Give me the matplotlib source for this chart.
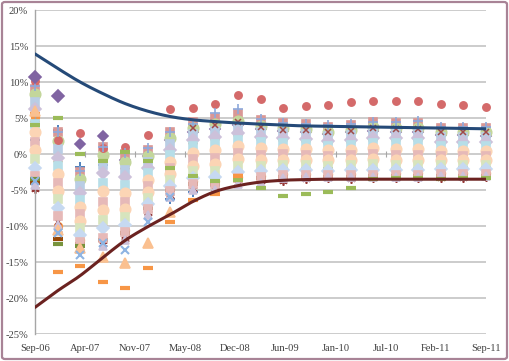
import matplotlib
matplotlib.use("Agg")
import matplotlib.pyplot as plt
from matplotlib.patches import FancyBboxPatch
import numpy as np

# months since Sep-06, one point per quarter
months = [0, 3, 6, 9, 12, 15, 18, 21, 24, 27, 30, 33, 36, 39, 42, 45, 48, 51, 54, 57, 60]
tick_labels = ["Sep-06", "Apr-07", "Nov-07", "May-08", "Dec-08",
               "Jun-09", "Jan-10", "Jul-10", "Feb-11", "Sep-11"]

# upper / lower bounds (%)
upper_bound = [13.9, 11.9, 10.0, 8.4, 7.0, 5.95, 5.2, 4.75, 4.5, 4.3, 4.15,
               4.0, 3.9, 3.85, 3.8, 3.75, 3.7, 3.65, 3.6, 3.55, 3.5]
lower_bound = [-21.3, -19.0, -16.9, -14.4, -12.0, -10.1, -8.4, -6.6, -5.2, -4.4, -3.9,
               -3.65, -3.55, -3.5, -3.5, -3.5, -3.5, -3.5, -3.5, -3.5, -3.5]

# individual series (%)
red_dot = [10.2, 2.0, 2.9, 0.8, 1.0, 2.6, 6.2, 6.4, 6.9, 8.2, 7.6,
           6.4, 6.7, 6.8, 7.2, 7.4, 7.3, 7.3, 6.9, 6.8, 6.5]
purple_diamond = [10.7, 8.1, 1.4, 2.5, -0.8, -0.3, 2.0, 3.0, 3.5, 4.0, 3.5,
                  3.2, 3.0, 2.8, 3.0, 3.2, 3.1, 3.1, 2.6, 2.6, 2.5]
orange_dash = [5.6, -16.4, -15.5, -17.8, -18.6, -15.9, -9.4, -6.4, -5.5, -3.0, -2.5,
               -2.0, -2.0, -1.8, -1.8, -1.5, -1.5, -1.5, -1.4, -1.4, -1.4]
green_dash = [4.0, 5.0, 0.0, -1.0, 0.3, -1.0, -2.0, -3.0, -3.7, -3.6, -4.7,
              -5.9, -5.6, -5.3, -4.7, -3.5, -3.4, -3.4, -3.5, -3.4, -3.3]
green_dash2 = [-3.5, -12.5, -12.8, -12.5, -11.5, -8.0, -5.5, -4.5, -4.5, -3.8, -3.6,
               -3.4, -3.4, -3.4, -3.4, -3.3, -3.3, -3.3, -3.2, -3.2, -3.2]
brown_dash = [-4.0, -11.8, -12.5, -12.0, -11.0, -7.5, -5.0, -4.2, -4.2, -3.6, -3.4,
              -3.2, -3.2, -3.2, -3.2, -3.1, -3.1, -3.1, -3.0, -3.0, -3.0]
orange_circle = [5.2, -10.0, -12.0, -10.1, -10.5, -7.0, -4.8, -3.8, -3.8, -3.2, -3.0,
                 -2.8, -2.8, -2.8, -2.8, -2.7, -2.7, -2.7, -2.6, -2.6, -2.6]
blue_x = [-3.8, -11.0, -14.0, -12.3, -13.3, -9.4, -6.0, -5.0, -4.8, -4.0, -3.8,
          -3.4, -3.4, -3.4, -3.4, -3.4, -3.4, -3.4, -3.3, -3.3, -3.3]
star_red = [-4.8, -10.5, -13.0, -12.5, -11.8, -8.2, -5.8, -4.8, -4.8, -4.0, -3.8,
            -3.7, -3.5, -3.4, -3.5, -3.4, -3.4, -3.3, -3.4, -3.4, -3.2]
blue_plus = [2.0, 3.3, -1.8, -1.5, -1.2, 0.0, -6.3, -5.3, -4.5, -2.4, -2.5,
             -2.0, -2.0, -2.0, -2.0, -1.9, -1.9, -1.9, -1.8, -1.8, -1.8]
lav_plus = [9.5, 3.0, -2.3, 1.0, 0.2, 0.8, 3.1, 4.2, 5.7, 6.3, 4.8,
            4.3, 4.2, 4.0, 4.1, 4.5, 4.4, 4.6, 3.7, 3.7, 3.7]
peach_tri = [6.0, -10.5, -13.0, -14.3, -15.2, -12.4, -8.0, -4.0, -3.8, -3.0, -2.8,
             -2.6, -2.6, -2.5, -2.5, -2.4, -2.4, -2.4, -2.3, -2.3, -2.3]
dark_orange_tri = [5.0, -0.5, -3.0, -0.4, -1.5, -0.5, 1.0, 2.0, 2.5, 3.0, 2.5,
                   2.3, 2.2, 2.0, 2.1, 2.4, 2.3, 2.3, 1.9, 1.9, 1.9]
dark_red_x = [-4.6, -9.5, -12.8, -12.0, -11.5, -8.0, -5.5, 3.6, 4.0, 4.5, 3.7,
              3.4, 3.3, 3.0, 3.2, 3.6, 3.5, 3.5, 3.0, 3.0, 3.0]

# the pale band of funds (%)
p01 = [9.0, 3.0, -2.5, 1.0, 0.0, 0.5, 3.0, 4.5, 5.0, 5.5, 4.7, 4.3, 4.2, 3.8, 4.0, 4.4, 4.3, 4.3, 3.6, 3.6, 3.6]
p02 = [8.4, 1.8, -3.5, -0.2, -1.1, -0.3, 2.2, 3.6, 4.1, 4.6, 3.9, 3.6, 3.5, 3.1, 3.3, 3.7, 3.6, 3.6, 3.0, 3.0, 3.0]
p03 = [7.2, 0.7, -4.4, -1.5, -2.2, -1.1, 1.4, 2.8, 3.2, 3.8, 3.1, 2.9, 2.8, 2.5, 2.6, 3.0, 2.9, 2.9, 2.3, 2.3, 2.3]
p04 = [6.3, -0.5, -5.4, -2.7, -3.2, -1.9, 0.6, 1.9, 2.3, 2.9, 2.4, 2.2, 2.1, 1.8, 1.9, 2.2, 2.2, 2.2, 1.7, 1.7, 1.7]
p05 = [4.2, -1.6, -6.4, -4.0, -4.3, -2.7, -0.2, 1.1, 1.4, 2.0, 1.6, 1.5, 1.4, 1.1, 1.3, 1.5, 1.5, 1.5, 1.1, 1.1, 1.1]
p06 = [3.0, -2.8, -7.3, -5.2, -5.4, -3.6, -1.1, 0.2, 0.5, 1.1, 0.8, 0.7, 0.7, 0.5, 0.6, 0.8, 0.7, 0.7, 0.4, 0.4, 0.4]
p07 = [1.7, -4.0, -8.4, -6.6, -6.6, -4.5, -2.0, -0.7, -0.5, 0.2, -0.1, 0.0, -0.1, -0.3, -0.2, 0.0, -0.1, -0.1, -0.3, -0.3, -0.3]
p08 = [0.5, -5.2, -9.3, -7.8, -7.7, -5.3, -2.8, -1.6, -1.4, -0.7, -0.9, -0.8, -0.8, -0.9, -0.9, -0.7, -0.8, -0.8, -0.9, -0.9, -0.9]
p09 = [-0.7, -6.3, -10.3, -9.1, -8.8, -6.1, -3.6, -2.4, -2.3, -1.6, -1.7, -1.5, -1.5, -1.6, -1.5, -1.4, -1.5, -1.5, -1.5, -1.5, -1.5]
p10 = [-1.9, -7.5, -11.3, -10.3, -9.8, -6.9, -4.4, -3.3, -3.2, -2.5, -2.4, -2.2, -2.2, -2.3, -2.2, -2.2, -2.2, -2.2, -2.1, -2.1, -2.1]
p11 = [-3.1, -8.6, -12.2, -11.6, -10.9, -7.7, -5.2, -4.1, -4.1, -3.3, -3.2, -2.9, -2.9, -2.9, -2.9, -2.9, -2.9, -2.9, -2.8, -2.8, -2.8]
p12 = [-4.3, -9.8, -13.2, -12.8, -12.0, -8.5, -6.0, -5.0, -5.0, -4.2, -4.0, -3.3, -3.2, -3.2, -3.2, -3.2, -3.2, -3.2, -3.0, -3.0, -3.0]


def smooth(xs, ys, n=12):
    # Catmull-Rom curve through the points, like Excel's smoothed line
    xs = np.asarray(xs, float)
    ys = np.asarray(ys, float)
    P = np.column_stack([xs, ys])
    P = np.vstack([2 * P[0] - P[1], P, 2 * P[-1] - P[-2]])
    out = []
    t = np.linspace(0, 1, n, endpoint=False)[:, None]
    for i in range(1, len(P) - 2):
        p0, p1, p2, p3 = P[i - 1], P[i], P[i + 1], P[i + 2]
        seg = 0.5 * ((2 * p1) + (-p0 + p2) * t + (2 * p0 - 5 * p1 + 4 * p2 - p3) * t ** 2
                     + (-p0 + 3 * p1 - 3 * p2 + p3) * t ** 3)
        out.append(seg)
    out.append(P[-2][None, :])
    out = np.vstack(out)
    return out[:, 0], out[:, 1]


W, H = 509, 361
fig = plt.figure(figsize=(W / 100, H / 100), dpi=100)
ax = fig.add_axes([35 / W, 1 - 334 / H, 451 / W, 324 / H])
ax.set_xlim(0, 60)
ax.set_ylim(-25, 20)
ax.patch.set_alpha(0)

grid_c = "#BFBFBF"
for v in range(-25, 21, 5):
    ax.axhline(v, color=grid_c, lw=1.1, zorder=0)
for s in ["top", "right", "bottom"]:
    ax.spines[s].set_visible(False)
ax.spines["left"].set_color("#A6A6A6")
ax.spines["left"].set_linewidth(1.0)

ticks = np.linspace(0, 60, len(tick_labels))
ax.set_xticks(ticks)
ax.set_xticklabels(tick_labels)
ax.set_yticks(range(-25, 21, 5))
ax.set_yticklabels([f"{v}%" for v in range(-25, 21, 5)])
ax.tick_params(axis="both", length=0, labelsize=7.6, colors="#404040")
ax.tick_params(axis="x", pad=7)
ax.tick_params(axis="y", pad=5)
for lab in ax.get_xticklabels() + ax.get_yticklabels():
    lab.set_family("Liberation Serif")
# small ticks on the 0% line
ax.plot(ticks, np.zeros(len(ticks)), ls="none", marker="|", ms=4, mew=0.8,
        color="#A6A6A6", zorder=1)

x = np.array(months)
sz = 5.5


def pts(vals, marker, color, ms=sz, mew=1.2, z=3, sl=slice(None)):
    ax.plot(x[sl], np.asarray(vals)[sl], ls="none", marker=marker, ms=ms, mew=mew,
            color=color, mfc=color, mec=color, zorder=z, clip_on=False)


# solid series underneath the pale band
pts(dark_orange_tri, "^", "#E46C0A", z=2)
pts(purple_diamond, "D", "#8064A2", ms=5.5, z=2)
pts(blue_plus, "+", "#4F81BD", ms=7, mew=1.4, z=2)
pts(orange_circle, "o", "#F79646", z=2)
pts(brown_dash, "_", "#984807", ms=6.5, mew=3, z=2)
pts(star_red, (6, 2, 0), "#953735", ms=6, mew=1.2, z=2)
pts(dark_red_x, "x", "#953735", ms=5, mew=1.3, z=2, sl=slice(0, 7))

pale = [(p01, "s", "#D99795"), (p02, "o", "#C3D69B"), (p03, "s", "#B9CDE5"),
        (p04, "D", "#CCC1DA"), (p05, "s", "#B7DEE8"), (p06, "o", "#FCD5B5"),
        (p07, "s", "#E6B9B8"), (p08, "o", "#FBD4B4"), (p09, "s", "#D7E4BD"),
        (p10, "D", "#C6D9F1"), (p11, "s", "#E6B9B8"), (p12, "^", "#CCC1DA")]
for vals, m, c in pale:
    ms = 7.5 if m == "o" else 6.2
    pts(vals, m, c, ms=ms, z=3)

# solid series visible on top
pts(red_dot, "o", "#D46A6A", ms=5.2, z=4)
pts(lav_plus, "+", "#8EA9DB", ms=7, mew=1.2, z=4)
pts(green_dash, "_", "#9BBB59", ms=6.5, mew=3, z=4)
pts(green_dash2, "_", "#77933C", ms=6.5, mew=3, z=4, sl=slice(0, 3))
pts(orange_dash, "_", "#F79646", ms=6.5, mew=3, z=4, sl=slice(0, 10))
pts(peach_tri, "^", "#FAC090", ms=6.5, z=4, sl=slice(0, 7))
pts(blue_x, "x", "#8EB4E3", ms=6, mew=1.5, z=4, sl=slice(0, 7))
pts(dark_red_x, "x", "#A04A48", ms=4.5, mew=1.1, z=4, sl=slice(7, None))
pts(purple_diamond, "D", "#8064A2", ms=6, z=5, sl=slice(0, 2))

# bound curves
ux, uy = smooth(x, upper_bound)
lx, ly = smooth(x, lower_bound)
ax.plot(ux, uy, color="#254A78", lw=2.2, zorder=5, solid_capstyle="round")
ax.plot(lx, ly, color="#6B2220", lw=2.2, zorder=5, solid_capstyle="round")

# outer border
fig.patches.append(FancyBboxPatch((2 / W, 2 / H), 1 - 4 / W, 1 - 4 / H,
                                  boxstyle="round,pad=0,rounding_size=0.006",
                                  transform=fig.transFigure, fill=False,
                                  ec="#A88396", lw=1.6))

fig.savefig("out.png", dpi=100)
